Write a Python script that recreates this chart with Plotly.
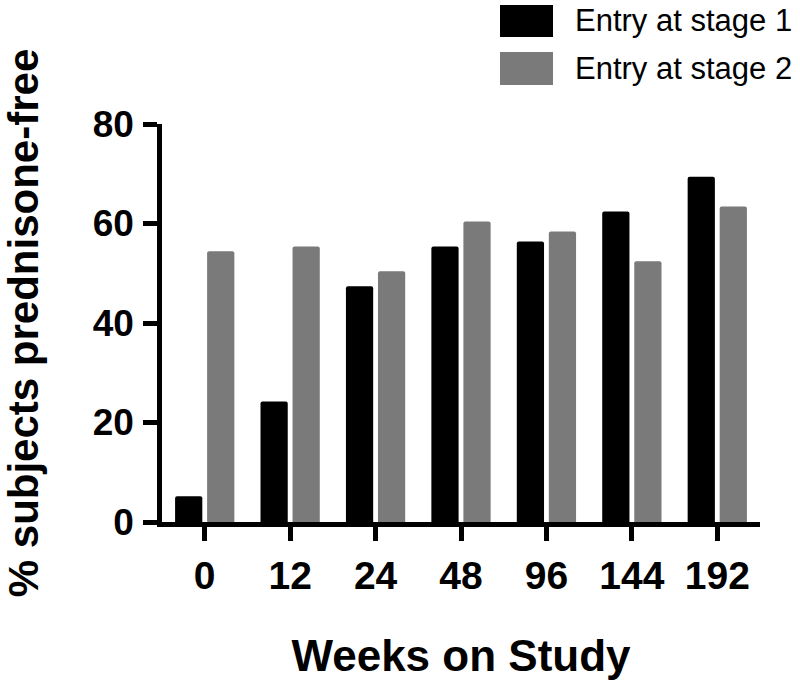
import plotly.graph_objects as go

weeks = ["0", "12", "24", "48", "96", "144", "192"]
stage1 = [5.2, 24.2, 47.4, 55.4, 56.4, 62.4, 69.4]
stage2 = [54.4, 55.4, 50.4, 60.4, 58.4, 52.4, 63.4]
series_names = ["Entry at stage 1", "Entry at stage 2"]
series_colors = ["#000000", "#7a7a7a"]
y_ticks = [0, 20, 40, 60, 80]

FONT = "Liberation Sans, Arial, sans-serif"
W, H = 800, 687
ML, MR, MT, MB = 162, 40, 124, 165
PW, PH = W - ML - MR, H - MT - MB

fig = go.Figure()
for name, vals, col in zip(series_names, [stage1, stage2], series_colors):
    fig.add_trace(go.Bar(x=weeks, y=vals, name=name,
                         marker=dict(color=col, line=dict(width=0), cornerradius=2),
                         showlegend=False))

fig.update_layout(
    width=W, height=H,
    margin=dict(l=ML, r=MR, t=MT, b=MB, autoexpand=False),
    plot_bgcolor="white", paper_bgcolor="white",
    barmode="group", bargap=0.25, bargroupgap=0.15,
    font=dict(family=FONT, color="black"),
)
fig.update_xaxes(
    type="category", range=[-0.5, 6.5],
    showline=True, linecolor="black", linewidth=4.5,
    ticks="outside", ticklen=14, tickwidth=4.5, tickcolor="black",
    tickfont=dict(size=39, family=FONT, weight="bold"),
    ticklabelstandoff=1,
    showgrid=False, zeroline=False,
    title=dict(text="<b>Weeks on Study</b>", font=dict(size=44, family=FONT), standoff=46),
)
fig.update_yaxes(
    range=[0, 80], tickvals=y_ticks,
    showline=True, linecolor="black", linewidth=4.5,
    ticks="outside", ticklen=14, tickwidth=4.5, tickcolor="black",
    tickfont=dict(size=37, family=FONT, weight="bold"),
    ticklabelstandoff=2,
    showgrid=False, zeroline=False,
    title=dict(text="<b>% subjects prednisone-free</b>", font=dict(size=42, family=FONT), standoff=50),
)

# custom legend (page pixel positions converted to paper coords)
def px(xp):
    return (xp - ML) / PW

def py(yp):
    return (H - MB - yp) / PH

legend_rows = [(5, 37), (52, 85)]
for (top, bot), name, col in zip(legend_rows, series_names, series_colors):
    fig.add_shape(type="rect", xref="paper", yref="paper",
                  x0=px(500), x1=px(553), y0=py(bot), y1=py(top),
                  fillcolor=col, line=dict(width=0))
    fig.add_annotation(xref="paper", yref="paper", x=px(573), y=py((top + bot) / 2),
                       text=name, showarrow=False, xanchor="left", yanchor="middle",
                       font=dict(size=31, family=FONT, color="black"))

fig.write_html("out.html", config={"displayModeBar": False},
               post_script="document.body.style.margin='0px';")
